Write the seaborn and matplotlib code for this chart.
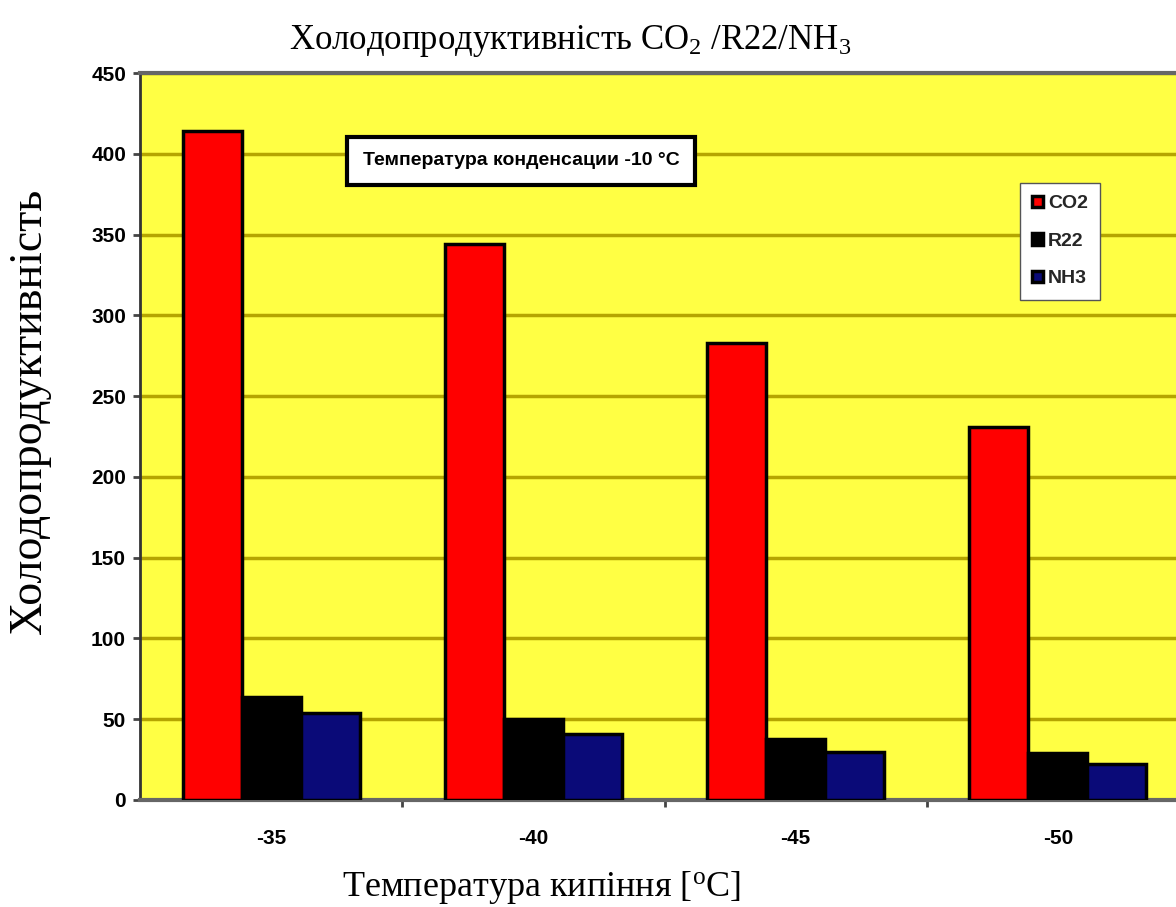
import matplotlib
matplotlib.use("Agg")
import matplotlib.pyplot as plt
from matplotlib.ticker import FixedLocator
import seaborn as sns
import pandas as pd

# Evaporation temperatures (°C) and cooling capacity per refrigerant
temperatures = ["-35", "-40", "-45", "-50"]
co2 = [414, 344, 283, 231]
r22 = [64, 50, 38, 29]
nh3 = [54, 41, 30, 22]
series_names = ["CO2", "R22", "NH3"]
y_ticks = [0, 50, 100, 150, 200, 250, 300, 350, 400, 450]

df = pd.DataFrame({
    "temp": temperatures * 3,
    "value": co2 + r22 + nh3,
    "series": [s for s in series_names for _ in temperatures],
})

sns.set_theme(style="white")
plt.rcParams["font.family"] = ["Liberation Sans", "DejaVu Sans"]
plt.rcParams["mathtext.fontset"] = "custom"
plt.rcParams["mathtext.rm"] = "Liberation Serif"
plt.rcParams["mathtext.it"] = "Liberation Serif:italic"
plt.rcParams["mathtext.bf"] = "Liberation Serif:bold"

fig = plt.figure(figsize=(11.76, 9.07), dpi=100)
ax = fig.add_axes([0.119, 0.118, 0.881, 0.8015])
ax.set_facecolor("#FFFF44")

palette = {"CO2": "#FF0000", "R22": "#000000", "NH3": "#0A0A78"}
sns.barplot(data=df, x="temp", y="value", hue="series", palette=palette,
            width=0.675, gap=0, edgecolor="black", linewidth=2.5,
            saturation=1, ax=ax, legend=True, zorder=3)

ax.set_ylim(0, 450)
ax.set_xlim(-0.5, 3.45)
ax.yaxis.set_major_locator(FixedLocator(y_ticks))
ax.grid(axis="y", color="#B5A500", linewidth=2.5, zorder=0)
ax.set_axisbelow(True)

for side in ["top", "bottom"]:
    ax.spines[side].set_color("#666666")
    ax.spines[side].set_linewidth(3)
ax.spines["left"].set_color("#333333")
ax.spines["left"].set_linewidth(2)
ax.spines["right"].set_visible(False)

ax.xaxis.set_minor_locator(FixedLocator([0.5, 1.5, 2.5]))
ax.tick_params(axis="x", which="major", length=0, pad=21)
ax.tick_params(axis="x", which="minor", length=5, width=2, color="#444444", bottom=True)
ax.tick_params(axis="y", length=5, width=2, color="#444444", left=True, pad=5)
for lab in ax.get_xticklabels() + ax.get_yticklabels():
    lab.set_fontweight("bold")
    lab.set_fontsize(15)
    lab.set_color("black")

serif = ["Liberation Serif", "DejaVu Serif"]
ax.set_xlabel("Температура кипіння [$^{\\rm o}$C]", family=serif, fontsize=26,
              color="black")
ax.xaxis.set_label_coords(0.388, -0.095)
ax.set_ylabel("Холодопродуктивність", family=serif, fontsize=33,
              color="black")
ax.yaxis.set_label_coords(-0.086, 0.535)
fig.text(0.485, 0.955, "Холодопродуктивність CO$_2$ /R22/NH$_3$", family=serif,
         fontsize=25, ha="center", va="center", color="black")

ax.text(0.368, 0.879, "Температура конденсации -10 °C", transform=ax.transAxes,
        ha="center", va="center", fontsize=14, fontweight="bold", color="black",
        bbox=dict(boxstyle="square,pad=0.8", facecolor="white",
                  edgecolor="black", linewidth=3), zorder=5)

leg = ax.legend(loc="upper right", bbox_to_anchor=(0.927, 0.849), frameon=True,
                fancybox=False, edgecolor="#555555", facecolor="white",
                framealpha=1, fontsize=14, labelspacing=1.05, handlelength=0.55,
                handleheight=0.55, handletextpad=0.25, borderpad=0.65,
                borderaxespad=0)
for t in leg.get_texts():
    t.set_fontweight("bold")
leg.set_zorder(5)

fig.savefig("out.png", dpi=100, facecolor="white")
